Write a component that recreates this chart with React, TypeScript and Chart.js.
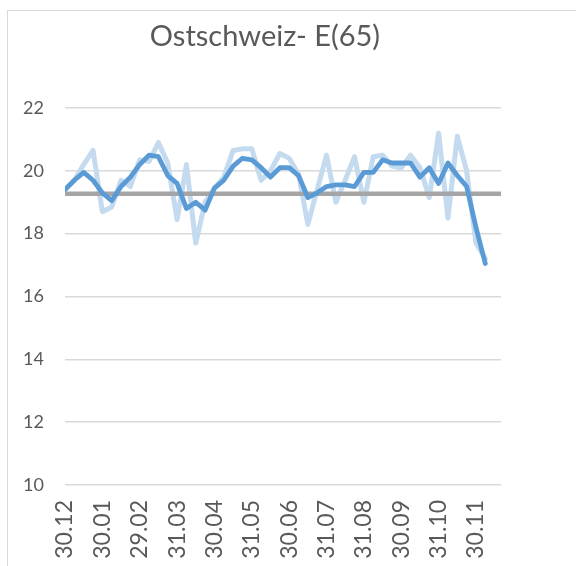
import React, { useEffect, useRef } from "react";
import { Chart, registerables } from "chart.js";

Chart.register(...registerables);

const chartTitle = "Ostschweiz- E(65)";
const monthLabels = ["30.12", "30.01", "29.02", "31.03", "30.04", "31.05", "30.06", "31.07", "31.08", "30.09", "31.10", "30.11"];
const readingsPerMonth = 4;
const axisEndMonths = 11.67;

const rawValues = [
  19.4, 19.7, 20.2, 20.65, 18.7, 18.85, 19.7, 19.5, 20.35, 20.3,
  20.9, 20.25, 18.45, 20.2, 17.7, 19.0, 19.45, 19.8, 20.65, 20.7,
  20.7, 19.7, 20.0, 20.55, 20.4, 19.9, 18.3, 19.4, 20.5, 19.0,
  19.7, 20.45, 19.0, 20.45, 20.5, 20.15, 20.1, 20.5, 20.1, 19.15,
  21.2, 18.5, 21.1, 20.0, 17.7, 17.2,
];

const smoothValues = [
  19.4, 19.7, 19.95, 19.7, 19.3, 19.05, 19.5, 19.8, 20.2, 20.5,
  20.45, 19.85, 19.6, 18.8, 19.0, 18.75, 19.45, 19.7, 20.15, 20.4,
  20.35, 20.1, 19.8, 20.1, 20.1, 19.85, 19.15, 19.3, 19.5, 19.55,
  19.55, 19.5, 19.95, 19.95, 20.35, 20.25, 20.25, 20.25, 19.8, 20.1,
  19.6, 20.25, 19.85, 19.5, 18.2, 17.05,
];

const averageValue = 19.27;

const yMin = 10;
const yMax = 22;
const yStep = 2;

const FONT = "Lato, 'Open Sans', sans-serif";

export default function App() {
  const canvasRef = useRef<HTMLCanvasElement | null>(null);

  useEffect(() => {
    const canvas = canvasRef.current;
    if (!canvas) return;
    const toPoints = (vals: number[]) => vals.map((v, i) => ({ x: i / readingsPerMonth, y: v }));
    const chart = new Chart(canvas, {
      type: "line",
      data: {
        datasets: [
          {
            label: "Glättung",
            data: toPoints(smoothValues),
            borderColor: "#5B9BD5",
            borderWidth: 4.8,
            pointRadius: 0,
            tension: 0,
            borderJoinStyle: "round",
            borderCapStyle: "round",
          },
          {
            label: "Mittel",
            data: [
              { x: 0, y: averageValue },
              { x: axisEndMonths, y: averageValue },
            ],
            borderColor: "#A5A5A5",
            borderWidth: 4.5,
            pointRadius: 0,
            tension: 0,
          },
          {
            label: "Werte",
            data: toPoints(rawValues),
            borderColor: "#C3DAEF",
            borderWidth: 5,
            pointRadius: 0,
            tension: 0,
            borderJoinStyle: "round",
            borderCapStyle: "round",
          },
        ],
      },
      options: {
        responsive: false,
        animation: false,
        layout: { padding: { left: 0, right: 75, top: 108, bottom: 0 } },
        plugins: {
          legend: { display: false },
          tooltip: { enabled: false },
          title: { display: false },
        },
        scales: {
          x: {
            type: "linear",
            min: 0,
            max: axisEndMonths,
            grid: { display: false, drawTicks: false },
            border: { display: false },
            afterBuildTicks: (scale: any) => {
              scale.ticks = monthLabels.map((_, i) => ({ value: i }));
            },
            afterFit: (scale: any) => {
              scale.height = 81;
            },
            ticks: {
              autoSkip: false,
              minRotation: 90,
              maxRotation: 90,
              padding: 15,
              color: "#595959",
              font: { family: FONT, size: 23 },
              callback: (value: any) => monthLabels[Math.round(Number(value))] ?? "",
            },
          },
          y: {
            min: yMin,
            max: yMax,
            grid: { color: "#D9D9D9", lineWidth: 1.5, drawTicks: false },
            border: { display: false },
            afterFit: (scale: any) => {
              scale.width = 65;
            },
            ticks: {
              stepSize: yStep,
              padding: 21,
              color: "#595959",
              font: { family: FONT, size: 18 },
            },
          },
        },
      },
    });
    return () => chart.destroy();
  }, []);

  return (
    <div style={{ position: "fixed", left: 0, top: 0, width: 576, height: 566, overflow: "hidden", background: "#fff" }}>
      <div
        style={{
          position: "absolute",
          left: 7,
          top: 10,
          width: 1000,
          height: 1000,
          borderLeft: "1px solid #D9D9D9",
          borderTop: "1px solid #D9D9D9",
        }}
      />
      <canvas ref={canvasRef} width={576} height={566} style={{ position: "absolute", left: 0, top: 0 }} />
      <div
        style={{
          position: "absolute",
          left: 0,
          top: 20,
          width: 530,
          textAlign: "center",
          fontFamily: FONT,
          fontSize: 29,
          lineHeight: "29px",
          color: "#595959",
          whiteSpace: "nowrap",
        }}
      >
        {chartTitle}
      </div>
    </div>
  );
}
